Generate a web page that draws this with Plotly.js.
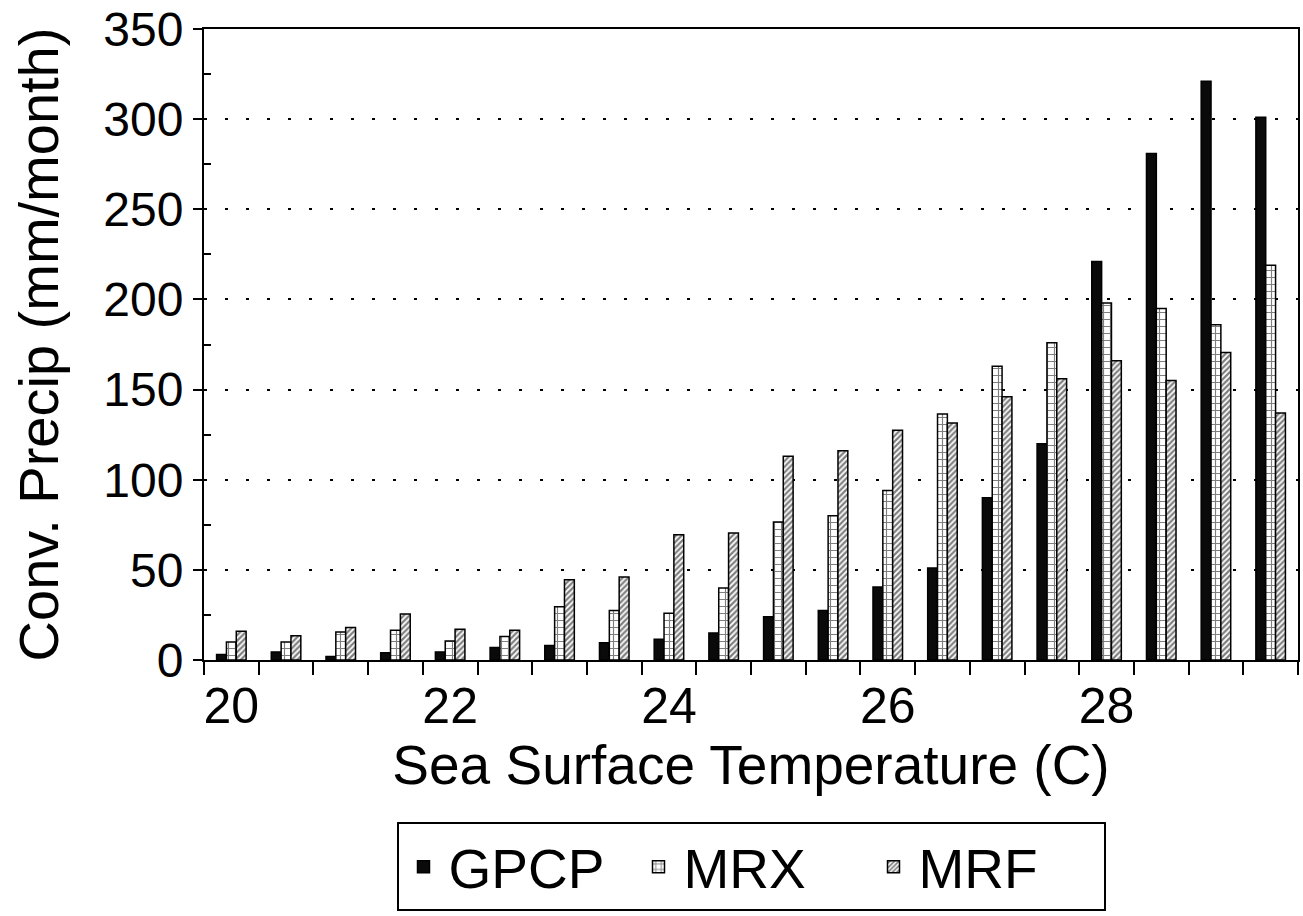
<!DOCTYPE html>
<html>
<head>
<meta charset="utf-8">
<script src="https://cdn.plot.ly/plotly-3.0.1.min.js"></script>
<style>
  html, body { margin: 0; padding: 0; background: #fff; }
  #chart { width: 1303px; height: 916px; }
</style>
</head>
<body>
<div id="chart"></div>
<script>
// Sea surface temperature bins (C)
var sst = [20, 20.5, 21, 21.5, 22, 22.5, 23, 23.5, 24, 24.5,
           25, 25.5, 26, 26.5, 27, 27.5, 28, 28.5, 29, 29.5];
// Convective precipitation (mm/month)
var gpcp = [3, 4.5, 2, 4, 4.5, 7, 8, 9.5, 11.5, 15,
            24, 27.5, 40.5, 51, 90, 120, 221, 281, 321, 301];
var mrx  = [10, 10, 15.5, 16.5, 10.5, 13, 29.5, 27.5, 26, 40,
            76.5, 80, 94, 136.5, 163, 176, 198, 195, 186, 219];
var mrf  = [16, 13.5, 18, 25.5, 17, 16.5, 44.5, 46, 69.5, 70.5,
            113, 116, 127.5, 131.5, 146, 156, 166, 155, 170.5, 137];
var xTickVals = [20, 22, 24, 26, 28];
var xTickText = ['20', '22', '24', '26', '28'];
var binEdges = [19.75, 20.25, 20.75, 21.25, 21.75, 22.25, 22.75, 23.25, 23.75, 24.25, 24.75,
                25.25, 25.75, 26.25, 26.75, 27.25, 27.75, 28.25, 28.75, 29.25, 29.75];

var FONT = 'Liberation Sans, Arial, Helvetica, sans-serif';

var traces = [
  {
    type: 'bar', name: 'GPCP', x: sst, y: gpcp,
    marker: { color: '#0a0a0a', line: { color: '#000', width: 1.5 } }
  },
  {
    type: 'bar', name: 'MRX', x: sst, y: mrx,
    marker: {
      color: '#ffffff',
      line: { color: '#000', width: 1.5 },
      pattern: { shape: '+', size: 7, solidity: 0.3, fgcolor: '#000', bgcolor: '#fff', fillmode: 'overlay' }
    }
  },
  {
    type: 'bar', name: 'MRF', x: sst, y: mrf,
    marker: {
      color: '#ffffff',
      line: { color: '#000', width: 1.5 },
      pattern: { shape: '/', size: 4, solidity: 0.55, fgcolor: '#000', bgcolor: '#fff', fillmode: 'overlay' }
    }
  }
];

var layout = {
  width: 1303, height: 916,
  paper_bgcolor: '#fff', plot_bgcolor: '#fff',
  margin: { l: 204, r: 5, t: 29, b: 256 },
  font: { family: FONT, color: '#000' },
  barmode: 'group',
  bargap: 0.46,
  bargroupgap: 0,
  showlegend: true,
  legend: {
    orientation: 'h',
    xref: 'paper', x: 0.5, xanchor: 'center',
    yref: 'container', y: 0.005, yanchor: 'bottom',
    bordercolor: '#000', borderwidth: 2,
    bgcolor: '#fff',
    font: { family: FONT, size: 55, color: '#000' },
    entrywidth: 180, entrywidthmode: 'pixels',
    itemwidth: 40,
    traceorder: 'normal'
  },
  xaxis: {
    type: 'linear',
    range: [19.75, 29.75],
    tickmode: 'array', tickvals: xTickVals, ticktext: xTickText,
    ticks: '',
    showgrid: false, zeroline: false,
    showline: true, linecolor: '#000', linewidth: 2, mirror: true,
    tickfont: { family: FONT, size: 50, color: '#000' },
    ticklabelstandoff: 1,
    minor: {
      tickmode: 'array', tickvals: binEdges,
      ticks: 'outside', ticklen: 13, tickwidth: 2, tickcolor: '#000',
      showgrid: false
    },
    title: { text: 'Sea Surface Temperature (C)', font: { family: FONT, size: 55, color: '#000' }, standoff: 0 }
  },
  xaxis2: {
    overlaying: 'x', matches: 'x', anchor: 'y', side: 'bottom',
    range: [19.75, 29.75],
    tickmode: 'array', tickvals: binEdges,
    ticks: 'inside', ticklen: 11, tickwidth: 2, tickcolor: '#000',
    showticklabels: false, showgrid: false, zeroline: false, showline: false
  },
  yaxis: {
    range: [0, 350],
    tickmode: 'linear', tick0: 0, dtick: 50,
    ticks: 'outside', ticklen: 9, tickwidth: 2, tickcolor: '#000',
    showgrid: true, gridcolor: '#000', gridwidth: 2, griddash: '3px,18px',
    zeroline: false,
    showline: true, linecolor: '#000', linewidth: 2, mirror: true,
    tickfont: { family: FONT, size: 48, color: '#000' },
    minor: {
      tickmode: 'linear', tick0: 25, dtick: 50,
      ticks: 'inside', ticklen: 7, tickwidth: 2, tickcolor: '#000',
      showgrid: false
    },
    title: { text: 'Conv. Precip (mm/month)', font: { family: FONT, size: 56, color: '#000' }, standoff: 27 }
  },
  yaxis2: {
    overlaying: 'y', matches: 'y', anchor: 'x', side: 'left',
    range: [0, 350],
    tickmode: 'linear', tick0: 0, dtick: 50,
    ticks: 'inside', ticklen: 9, tickwidth: 2, tickcolor: '#000',
    showticklabels: false, showgrid: false, zeroline: false, showline: false
  }
};

Plotly.newPlot('chart', traces, layout, { displayModeBar: false, staticPlot: true });
</script>
</body>
</html>
